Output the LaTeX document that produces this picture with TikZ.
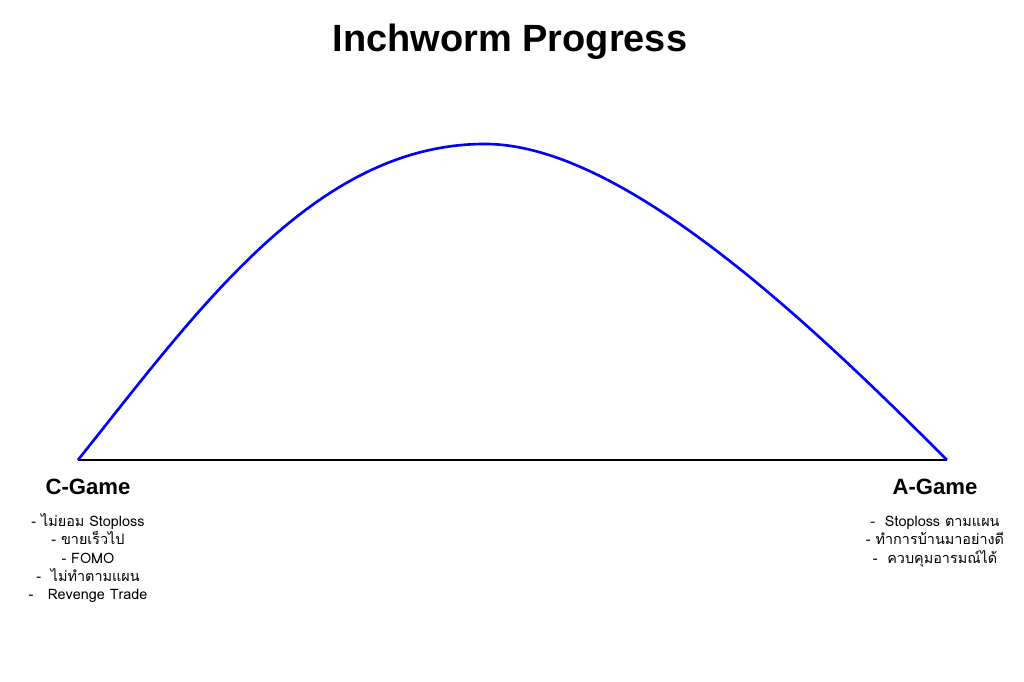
\documentclass[tikz,border=0pt]{standalone}
\usepackage{fontspec}
\setmainfont{Liberation Sans}
\newfontfamily\thaifont[Script=Thai]{Loma}
\usetikzlibrary{positioning}

\begin{document}
\begin{tikzpicture}[
    baseline/.style={line width=0.75pt, draw=black},
    curve/.style={line width=0.75pt, draw=blue},
    heading/.style={font=\fontsize{10.8}{13}\selectfont\bfseries},
    gamelabel/.style={font=\fontsize{6.3}{8}\selectfont\bfseries},
    itemlist/.style={align=center, inner sep=0pt, font=\thaifont\fontsize{4.1}{5.18}\selectfont}
]
    \useasboundingbox (0,0) rectangle (10.24,6.82);

    \node[heading] (title) at (5.10, 6.40) {Inchworm Progress};

    % End points and top of the arc
    \coordinate (start) at (0.78, 2.22);
    \coordinate (peak) at (4.85, 5.38);
    \coordinate (end) at (9.47, 2.22);

    % Ground line and progress arc
    \draw[baseline] (start) -- (end);
    \draw[curve] (start) .. controls (1.98, 3.72) and (3.15, 5.38) .. (peak)
                         .. controls (6.25, 5.38) and (8.17, 3.52) .. (end);

    % C-Game side
    \node[gamelabel] (cgame) at (0.88, 1.95) {C-Game};
    \node[itemlist, below=0.03 of cgame] (clist) {
        \rule{0pt}{4.5pt}- ไม่ยอม Stoploss\\
        - ขายเร็วไป\\
        - FOMO\\
        -\ \ ไม่ทำตามแผน\\
        -\ \ \ Revenge Trade
    };

    % A-Game side
    \node[gamelabel] (agame) at (9.35, 1.95) {A-Game};
    \node[itemlist, below=0.03 of agame] (alist) {
        \rule{0pt}{4.5pt}-\ \ Stoploss ตามแผน\\
        -\ ทำการบ้านมาอย่างดี\\
        -\ \ ควบคุมอารมณ์ได้
    };
\end{tikzpicture}
\end{document}
